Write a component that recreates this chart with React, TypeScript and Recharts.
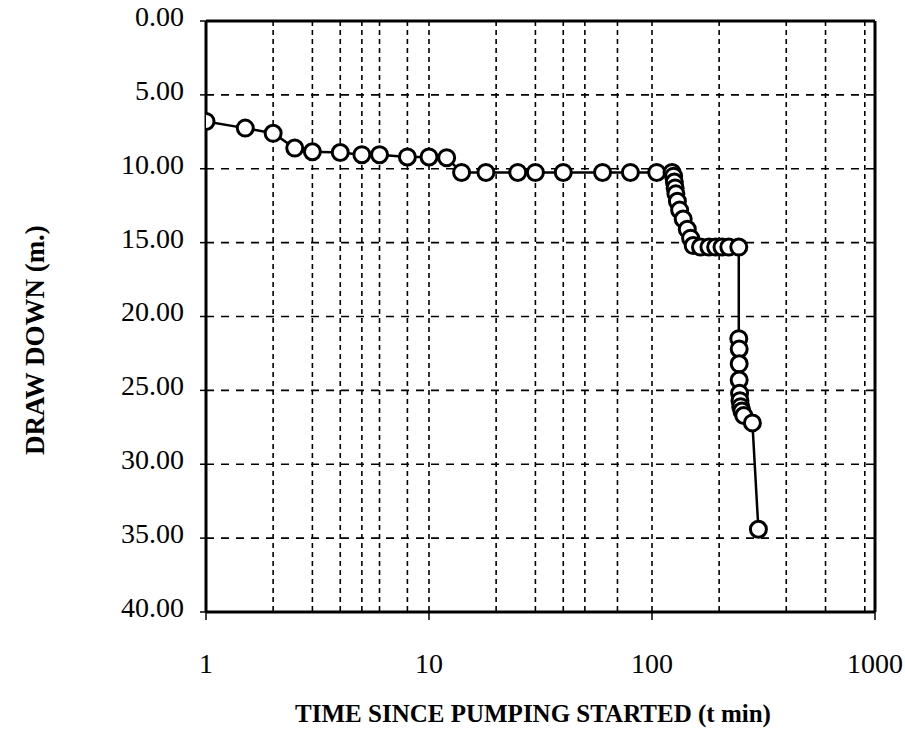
import { CartesianGrid, Label, Line, LineChart, ReferenceLine, XAxis, YAxis } from "recharts";

// pumping test: time since pumping started (min) vs draw down (m)
const timeMin = [
  1, 1.5, 2, 2.5, 3, 4, 5, 6, 8, 10, 12, 14, 18, 25, 30, 40, 60, 80, 105, 123,
  125, 126, 127, 128, 130, 133, 138, 144, 149, 153, 165, 180, 193, 206, 221, 245,
  245, 246, 246, 246, 247, 248, 250, 253, 258, 282, 300,
];
const drawDown = [
  6.8, 7.25, 7.6, 8.6, 8.85, 8.9, 9.05, 9.05, 9.2, 9.2, 9.25, 10.25, 10.25, 10.25, 10.25, 10.25, 10.25, 10.25, 10.25, 10.25,
  10.5, 10.9, 11.3, 11.7, 12.2, 12.8, 13.4, 14.1, 14.7, 15.2, 15.3, 15.3, 15.3, 15.3, 15.3, 15.3,
  21.5, 22.2, 23.2, 24.3, 25.2, 25.7, 26.1, 26.4, 26.7, 27.2, 34.4,
];

const xTicks = [1, 10, 100, 1000];
const yTicks = [0, 5, 10, 15, 20, 25, 30, 35, 40];
const xGridValues = [2, 3, 4, 5, 6, 7, 8, 9, 10, 20, 30, 40, 50, 60, 70, 80, 90, 100, 200, 300, 400, 500, 600, 700, 800, 900];

const data = timeMin.map((t, i) => ({ t, s: drawDown[i] }));

const FONT = '"Liberation Serif", "Times New Roman", serif';

export default function App() {
  return (
    <div style={{ position: "absolute", left: 0, top: 0, background: "#fff" }}>
      <LineChart width={905} height={751} data={data} margin={{ top: 21, right: 30, left: 0, bottom: 0 }}>
        <CartesianGrid horizontal={false} verticalValues={xGridValues} stroke="#000" strokeWidth={1.6} strokeDasharray="5 4" />
        <CartesianGrid vertical={false} stroke="#000" strokeWidth={1.6} strokeDasharray="8 7" />
        <XAxis
          dataKey="t"
          type="number"
          scale="log"
          domain={[1, 1000]}
          ticks={xTicks}
          allowDataOverflow
          height={139}
          axisLine={{ stroke: "#000", strokeWidth: 3 }}
          tickLine={{ stroke: "#000", strokeWidth: 1.5 }}
          tickSize={8}
          tickMargin={33}
          tick={{ fill: "#000", fontSize: 28, fontFamily: FONT }}
        >
          <Label
            content={() => (
              <text x={533} y={722} textAnchor="middle" fontFamily={FONT} fontWeight="bold" fontSize={25} fill="#000">
                TIME SINCE PUMPING STARTED (t min)
              </text>
            )}
          />
        </XAxis>
        <YAxis
          type="number"
          domain={[0, 40]}
          reversed
          ticks={yTicks}
          width={206}
          axisLine={{ stroke: "#000", strokeWidth: 3 }}
          tickLine={{ stroke: "#000", strokeWidth: 1.5 }}
          tickSize={6}
          tickMargin={16}
          tickFormatter={(v: number) => v.toFixed(2)}
          tick={{ fill: "#000", fontSize: 28, fontFamily: FONT, dy: -5 }}
        >
          <Label
            content={() => (
              <text
                x={0}
                y={0}
                transform="translate(44, 340) rotate(-90)"
                textAnchor="middle"
                fontFamily={FONT}
                fontWeight="bold"
                fontSize={27}
                fill="#000"
              >
                DRAW DOWN (m.)
              </text>
            )}
          />
        </YAxis>
        <ReferenceLine y={0} stroke="#000" strokeWidth={3} />
        <ReferenceLine x={1000} stroke="#000" strokeWidth={3} />
        <Line
          type="linear"
          dataKey="s"
          stroke="#000"
          strokeWidth={2.5}
          dot={{ r: 8, fill: "#fff", stroke: "#000", strokeWidth: 3 }}
          isAnimationActive={false}
        />
      </LineChart>
    </div>
  );
}
